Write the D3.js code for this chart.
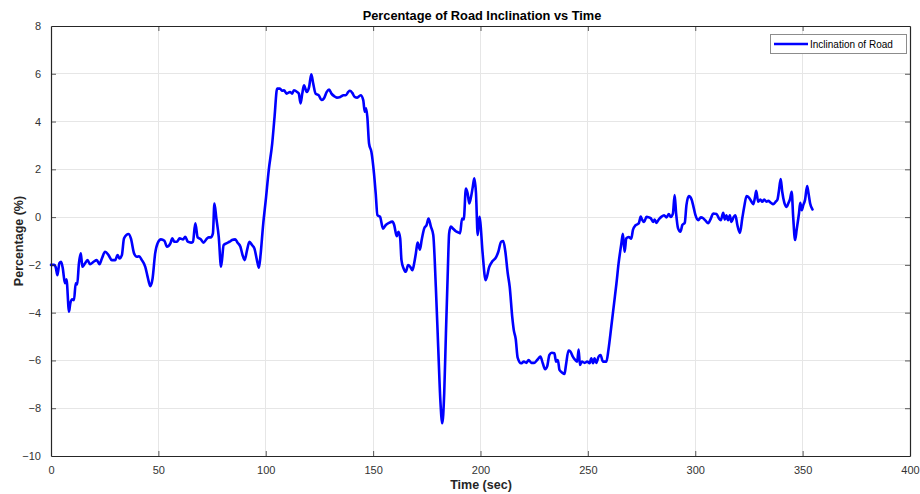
<!DOCTYPE html>
<html>
<head>
<meta charset="utf-8">
<script src="https://cdn.jsdelivr.net/npm/d3@7"></script>
<style>
  html, body { margin: 0; padding: 0; background: #ffffff; }
  svg { display: block; }
  text { font-family: "Liberation Sans", Arial, sans-serif; }
</style>
</head>
<body>
<svg id="chart" width="920" height="494"></svg>
<script>
// Time samples (s) and road inclination (%) along the drive
const timeSec = [
  0, 1.5, 2.2, 3, 3.9, 4.7, 5.5, 6.5, 7.2, 8.4, 9, 9.9, 10.7, 11.5, 12.2, 13, 13.9, 14.6, 15.8, 17,
  18.2, 19.8, 21.3, 22.6, 23.7, 25.2, 26.8, 28.3, 29.9, 31, 31.9, 33, 34, 36.1, 37.2, 38.7, 40, 41, 42.3, 43.9,
  45, 46.2, 47.3, 48.5, 49.6, 51.2, 52.8, 54, 55.6, 56.5, 57.4, 58.6, 59.9, 61.5, 62.5, 63.7, 65.2, 66.1, 67.2, 68.3,
  69.8, 71, 72.3, 73.4, 74.4, 75.4, 76.1, 77, 78.1, 79.2, 80.4, 81.6, 83.2, 84.3, 85.8, 86.9, 88.2, 89.2, 90.2, 91.3,
  92.4, 93.6, 94.7, 95.9, 96.8, 97.5, 98.8, 100, 101.4, 103, 104.1, 105.3, 106.6, 107.7, 108.5, 109.7, 111.3, 112.3, 113.1, 114.6,
  115.4, 116.2, 117, 117.8, 119.1, 120.2, 121.2, 122.1, 123.2, 124.7, 125.9, 127.1, 128.4, 129.5, 130.6, 131.9, 133.1, 134.7, 136.2, 137.3,
  138.4, 139.2, 140.3, 141.4, 142.6, 144.2, 145.4, 146.1, 146.7, 147.3, 148.1, 149.2, 150.4, 151.2, 152, 153.2, 154.6, 155.9, 157.4, 159,
  159.8, 161, 161.8, 162.6, 163.2, 164.2, 165.2, 166.3, 167.3, 168.3, 169.1, 169.9, 170.7, 171.8, 172.6, 173.8, 174.9, 175.8, 176.9, 178,
  179.2, 180.3, 181.3, 182.2, 183.1, 183.9, 184.7, 185.4, 186.2, 187.4, 188.5, 189.6, 190.5, 191.4, 192.2, 193.2, 194, 194.8, 195.6, 196.4,
  197.1, 197.9, 198.7, 199.5, 199.9, 201, 202.4, 204.1, 205.5, 207.2, 208.3, 209.6, 210.6, 211.5, 212.7, 213.6, 214.8, 215.5, 216.4, 217.3,
  218.9, 220.2, 221.4, 222.4, 223.7, 225, 226.6, 227.9, 229, 230.1, 231, 232.1, 233.2, 234.4, 235.2, 236, 236.8, 237.9, 239.1, 239.8,
  241, 241.9, 243, 244.1, 245, 245.7, 246.3, 247.2, 248.5, 249.7, 250.8, 251.6, 252.4, 253.1, 253.9, 255, 255.9, 257, 258.6, 259.6,
  260.9, 262.2, 263.3, 264.3, 265.6, 266.3, 267.1, 267.9, 269, 270.2, 271, 272.1, 273.1, 273.8, 274.6, 275.2, 276.2, 277.3, 278.4, 279.3,
  280.4, 281.1, 281.9, 283, 284.2, 285.5, 286.6, 287.7, 288.6, 289.6, 290.4, 291.1, 292, 293.1, 294, 295.1, 295.9, 297, 298.3, 299,
  300.1, 301.4, 302.6, 303.7, 304.8, 306, 307.3, 308.3, 309.9, 311, 311.9, 313, 313.8, 314.5, 315.3, 316.1, 316.8, 317.9, 318.7, 319.6,
  320.8, 321.9, 322.8, 323.9, 325, 326.2, 327, 327.8, 328.4, 329.3, 330.3, 331.2, 332.1, 333.2, 334, 335.2, 336.3, 337.4, 338.3, 338.9,
  339.8, 340.5, 341.5, 342.6, 343.3, 344.1, 344.9, 345.6, 346.5, 347.2, 348.3, 348.9, 349.6, 350.3, 351.1, 352.1, 352.7, 353.5, 354.6
];

const inclination = [
  -2.0, -2.0, -2.1, -2.43, -1.93, -1.87, -2.15, -2.77, -2.6, -3.96, -3.6, -3.44, -3.48, -2.77, -2.82, -1.94, -1.52, -2.08, -1.94, -1.8,
  -1.97, -1.87, -1.8, -1.97, -1.73, -1.45, -1.59, -1.8, -1.8, -1.59, -1.73, -1.59, -0.89, -0.71, -0.89, -1.52, -1.66, -1.64, -1.8, -2.08,
  -2.5, -2.89, -2.57, -1.52, -1.1, -0.93, -0.99, -1.24, -1.1, -0.89, -1.03, -1.03, -0.89, -0.93, -0.82, -1.03, -1.07, -1.03, -0.26, -0.85,
  -0.93, -1.07, -0.93, -0.85, -0.85, -0.68, 0.57, -0.05, -0.82, -2.08, -1.17, -1.1, -1.03, -0.96, -0.93, -1.07, -1.24, -1.59, -1.8, -1.38,
  -1.03, -1.17, -1.31, -1.8, -2.12, -1.66, -0.3, 0.71, 1.97, 3.08, 4.2, 5.38, 5.38, 5.29, 5.31, 5.17, 5.24, 5.17, 5.31, 5.24,
  5.17, 4.76, 5.17, 5.52, 5.24, 5.45, 5.98, 5.59, 5.17, 5.1, 4.9, 4.97, 5.24, 5.34, 5.17, 5.06, 5.0, 5.03, 5.1, 5.1,
  5.24, 5.29, 5.2, 5.03, 5.0, 5.1, 4.9, 4.41, 4.55, 4.2, 3.08, 2.73, 1.83, 0.99, 0.08, 0.02, -0.48, -0.33, -0.24, -0.19,
  -0.33, -0.8, -0.61, -0.89, -1.8, -2.15, -2.29, -2.01, -2.08, -2.22, -1.94, -1.52, -1.07, -1.36, -0.96, -0.47, -0.33, -0.06, -0.4, -0.75,
  -2.92, -5.43, -7.66, -8.63, -7.38, -4.87, -2.5, -0.68, -0.4, -0.5, -0.59, -0.64, -0.68, -0.06, -0.1, 1.2, 1.0, 0.57, 0.85, 1.26,
  1.62, 1.0, -0.75, 0.01, -0.2, -1.52, -2.64, -2.08, -1.85, -1.69, -1.45, -1.03, -1.0, -1.4, -2.36, -2.92, -4.2, -4.73, -5.1, -5.88,
  -6.12, -6.05, -6.1, -5.98, -6.1, -6.1, -5.96, -5.84, -6.12, -6.37, -6.26, -5.77, -5.68, -5.7, -6.05, -5.98, -6.4, -6.5, -6.57, -6.19,
  -5.59, -5.63, -5.84, -5.98, -6.05, -5.54, -6.19, -6.05, -6.1, -6.05, -6.12, -5.91, -6.12, -5.91, -6.1, -5.84, -5.77, -6.05, -6.05, -5.54,
  -4.59, -3.61, -2.78, -1.94, -1.1, -0.7, -1.45, -0.89, -0.83, -0.9, -0.53, -0.35, -0.3, -0.24, 0.02, -0.1, -0.2, 0.01, -0.01, -0.05,
  -0.2, -0.1, -0.24, -0.1, 0.01, 0.08, -0.01, 0.13, 0.01, 0.15, 0.92, 0.15, -0.47, -0.61, -0.33, -0.24, 0.5, 0.88, 0.74, 0.5,
  0.08, -0.13, -0.01, -0.05, -0.15, -0.26, -0.05, 0.15, 0.13, -0.05, -0.13, 0.18, -0.1, 0.08, -0.13, 0.08, -0.2, 0.01, 0.08, -0.33,
  -0.66, -0.05, 0.43, 0.88, 0.82, 0.64, 0.54, 0.82, 1.1, 0.64, 0.74, 0.64, 0.74, 0.64, 0.68, 0.6, 0.54, 0.64, 0.74, 1.06,
  1.59, 1.06, 0.6, 0.43, 0.57, 0.74, 1.06, 0.01, -0.96, -0.54, 0.15, 0.6, 0.29, 0.5, 0.71, 1.3, 1.02, 0.57, 0.32
];

const xTicks = [0, 50, 100, 150, 200, 250, 300, 350, 400];
const yTicks = [-10, -8, -6, -4, -2, 0, 2, 4, 6, 8];

const titleText = "Percentage of Road Inclination vs Time";
const xLabelText = "Time (sec)";
const yLabelText = "Percentage (%)";
const seriesName = "Inclination of Road";

const points = timeSec.map((t, i) => ({ t, v: inclination[i] }));

const svg = d3.select("#chart");
const plot = { left: 51, right: 910, top: 26, bottom: 456 };
const axisColor = "#262626";
const gridColor = "#e6e6e6";

const x = d3.scaleLinear().domain([0, 400]).range([plot.left, plot.right]);
const y = d3.scaleLinear().domain([-10, 8]).range([plot.bottom, plot.top]);

// grid
const grid = svg.append("g");
grid.selectAll("line.gx").data(xTicks).join("line")
  .attr("x1", d => x(d)).attr("x2", d => x(d))
  .attr("y1", plot.top).attr("y2", plot.bottom)
  .attr("stroke", gridColor).attr("stroke-width", 1).attr("shape-rendering", "crispEdges");
grid.selectAll("line.gy").data(yTicks).join("line")
  .attr("x1", plot.left).attr("x2", plot.right)
  .attr("y1", d => y(d)).attr("y2", d => y(d))
  .attr("stroke", gridColor).attr("stroke-width", 1).attr("shape-rendering", "crispEdges");

// data line
const line = d3.line()
  .x(d => x(d.t))
  .y(d => y(d.v))
  .curve(d3.curveMonotoneX);

svg.append("path")
  .datum(points)
  .attr("d", line)
  .attr("fill", "none")
  .attr("stroke", "#0000ff")
  .attr("stroke-width", 2.6)
  .attr("stroke-linejoin", "round")
  .attr("stroke-linecap", "round");

// axes with inward ticks on all four sides
function styleAxis(g) {
  g.select(".domain").attr("stroke", axisColor).attr("stroke-width", 1.2);
  g.selectAll(".tick line").attr("stroke", axisColor).attr("stroke-opacity", 0.75);
  g.selectAll(".tick text").attr("fill", "#333333").attr("font-size", 11)
    .attr("font-family", "'Liberation Sans', Arial, sans-serif");
}

const bottomAxis = svg.append("g")
  .attr("transform", `translate(0,${plot.bottom})`)
  .call(d3.axisBottom(x).tickValues(xTicks).tickSizeInner(-5).tickSizeOuter(0).tickPadding(10));
styleAxis(bottomAxis);

const topAxis = svg.append("g")
  .attr("transform", `translate(0,${plot.top})`)
  .call(d3.axisTop(x).tickValues(xTicks).tickSizeInner(-5).tickSizeOuter(0).tickFormat(""));
styleAxis(topAxis);

const leftAxis = svg.append("g")
  .attr("transform", `translate(${plot.left},0)`)
  .call(d3.axisLeft(y).tickValues(yTicks).tickSizeInner(-5).tickSizeOuter(0).tickPadding(10)
    .tickFormat(d3.format("d")));
styleAxis(leftAxis);

const rightAxis = svg.append("g")
  .attr("transform", `translate(${plot.right},0)`)
  .call(d3.axisRight(y).tickValues(yTicks).tickSizeInner(-5).tickSizeOuter(0).tickFormat(""));
styleAxis(rightAxis);

// remove tick marks sitting on the box corners
[bottomAxis, topAxis].forEach(g => g.selectAll(".tick").filter(d => d === 0 || d === 400).select("line").remove());
[leftAxis, rightAxis].forEach(g => g.selectAll(".tick").filter(d => d === -10 || d === 8).select("line").remove());

// labels
svg.append("text")
  .attr("x", 482).attr("y", 20)
  .attr("text-anchor", "middle")
  .attr("font-size", 12.8).attr("font-weight", "bold").attr("fill", "#000")
  .text(titleText);

svg.append("text")
  .attr("x", 481).attr("y", 489)
  .attr("text-anchor", "middle")
  .attr("font-size", 12.5).attr("font-weight", "bold").attr("fill", "#262626")
  .text(xLabelText);

svg.append("text")
  .attr("transform", `translate(23,${(plot.top + plot.bottom) / 2}) rotate(-90)`)
  .attr("text-anchor", "middle")
  .attr("font-size", 12.5).attr("font-weight", "bold").attr("fill", "#262626")
  .text(yLabelText);

// legend
const legend = svg.append("g").attr("transform", "translate(770,34)");
legend.append("rect")
  .attr("x", 0.5).attr("y", 0.5).attr("width", 136).attr("height", 19)
  .attr("fill", "#fff").attr("stroke", "#8c8c8c").attr("stroke-width", 1);
legend.append("line")
  .attr("x1", 4).attr("x2", 38).attr("y1", 10).attr("y2", 10)
  .attr("stroke", "#0000ff").attr("stroke-width", 2.6);
legend.append("text")
  .attr("x", 40).attr("y", 14)
  .attr("font-size", 10).attr("fill", "#000")
  .text(seriesName);
</script>
</body>
</html>
